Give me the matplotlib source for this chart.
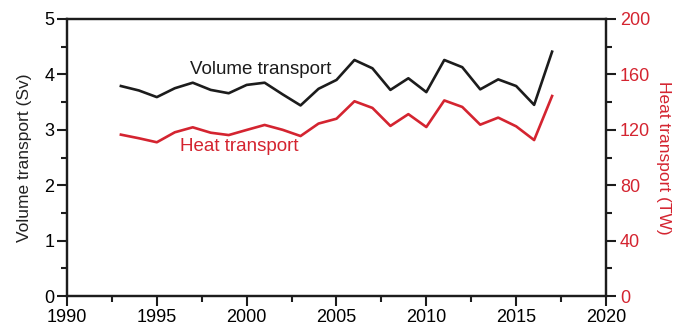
# Volume and heat transport, 1993-2017, on twin y axes
import numpy as np
import matplotlib.pyplot as plt
from matplotlib.ticker import MultipleLocator

plt.rcParams['font.family'] = ['Liberation Sans', 'DejaVu Sans']

# Yearly values
years = np.arange(1993, 2018)
volume_sv = [3.79, 3.71, 3.59, 3.75, 3.85, 3.72, 3.66, 3.81, 3.85, 3.64,
             3.44, 3.74, 3.90, 4.26, 4.11, 3.72, 3.93, 3.68, 4.26, 4.13,
             3.73, 3.91, 3.79, 3.45, 4.41]
heat_tw = [116.5, 113.9, 111.0, 118.2, 121.8, 117.9, 116.2, 119.9, 123.5, 120.0,
           115.5, 124.5, 128.0, 140.6, 135.8, 122.8, 131.3, 122.0, 141.2, 136.5,
           123.7, 128.8, 122.5, 112.6, 144.4]

black = '#1c1c1c'
red = '#d42430'

fig = plt.figure(figsize=(6.78, 3.33), dpi=100)
ax = fig.add_axes([0.0988, 0.111, 0.795, 0.832])
ax2 = ax.twinx()

ax.plot(years, volume_sv, color=black, lw=1.9)
ax2.plot(years, heat_tw, color=red, lw=1.9)

ax.set_xlim(1990, 2020)
ax.set_ylim(0, 5)
ax2.set_ylim(0, 200)

ax.xaxis.set_major_locator(MultipleLocator(5))
ax.xaxis.set_minor_locator(MultipleLocator(2.5))
ax.yaxis.set_major_locator(MultipleLocator(1))
ax.yaxis.set_minor_locator(MultipleLocator(0.5))
ax2.yaxis.set_major_locator(MultipleLocator(40))
ax2.yaxis.set_minor_locator(MultipleLocator(20))

for a in (ax, ax2):
    for s in a.spines.values():
        s.set_linewidth(1.6)
        s.set_color(black)
    a.tick_params(which='major', direction='out', length=7, width=1.5, color=black, labelsize=13)
    a.tick_params(which='minor', direction='out', length=4, width=1.5, color=black)

ax.tick_params(axis='x', pad=2)
ax.tick_params(axis='y', pad=2)
ax2.tick_params(axis='y', labelcolor=red, pad=3)

ax.set_ylabel('Volume transport (Sv)', fontsize=12.5, color='#222222', labelpad=9)
ax2.set_ylabel('Heat transport (TW)', fontsize=12.5, color=red, rotation=270, labelpad=15)

# In-plot labels for the two curves
ax.text(2000.8, 4.08, 'Volume transport', color=black, fontsize=13.5,
        ha='center', va='center')
ax.text(1999.6, 2.70, 'Heat transport', color=red, fontsize=13.5,
        ha='center', va='center')

fig.savefig('out.png', dpi=100)
